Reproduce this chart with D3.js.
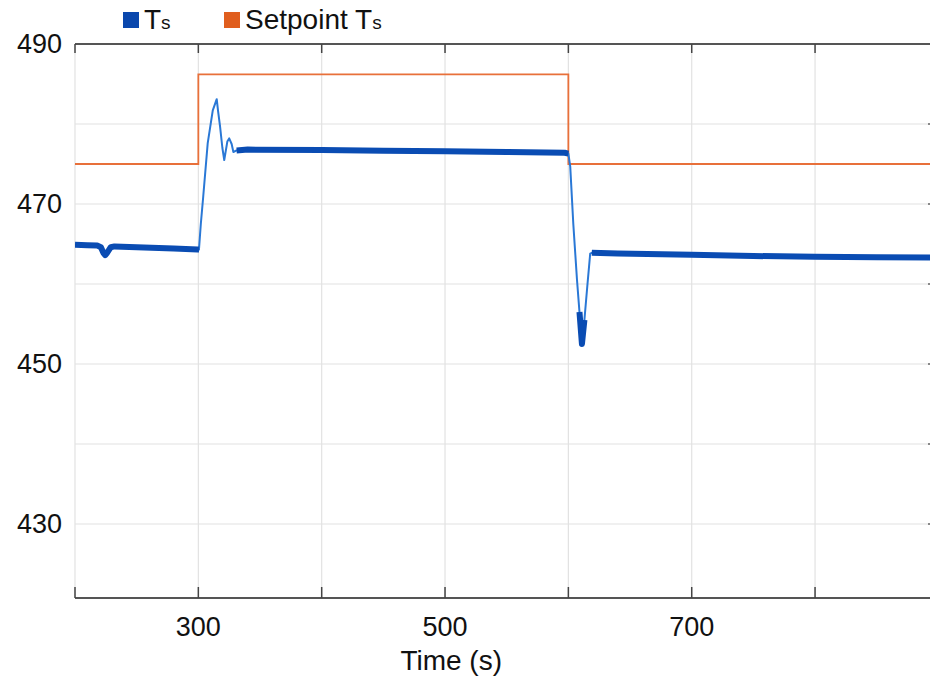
<!DOCTYPE html>
<html>
<head>
<meta charset="utf-8">
<script src="https://cdn.jsdelivr.net/npm/d3@7"></script>
<style>
  body { margin: 0; background: #fff; }
  text { font-family: "Liberation Sans", Arial, sans-serif; fill: #111; }
</style>
</head>
<body>
<div id="chart"></div>
<script>
// time (s) and measured Ts
var tsTime = [200, 210, 218, 221, 223, 224.5, 226, 229, 232, 250, 280, 299.5,
  300.5, 302, 304, 307.6, 311.7, 314.9, 316, 317.6, 319.5, 321, 323.5, 325, 327, 328.4, 331,
  340, 400, 450, 500, 550, 597, 600, 601.5, 604, 607, 609, 611, 613, 615.5, 617.7, 619,
  640, 700, 750, 800, 850, 894];
var tsValue = [464.9, 464.85, 464.8, 464.6, 463.9, 463.6, 463.9, 464.6, 464.7, 464.6, 464.45, 464.3,
  464.3, 467.5, 471, 477.6, 481.7, 483.1, 481.6, 479.7, 477, 475.5, 477.8, 478.2, 477.5, 476.5, 476.7,
  476.8, 476.75, 476.65, 476.6, 476.5, 476.4, 476.3, 474.7, 467.5, 460.5, 456.5, 452.5, 455.5, 460, 463.8, 463.9,
  463.8, 463.65, 463.5, 463.4, 463.35, 463.3];

// setpoint steps
var spTime = [200, 300, 300, 600, 600, 894];
var spValue = [475, 475, 486.2, 486.2, 475, 475];

// stretches where the signal is noisy (drawn as a band)
var steadyRanges = [[200, 300.5], [329, 600], [609, 613], [618, 894]];

var xTicks = [200, 300, 400, 500, 600, 700, 800];
var xLabels = [300, 500, 700];
var yGrid = [430, 440, 450, 460, 470, 480];
var yLabels = [430, 450, 470, 490];

var legendNames = ["T", "Setpoint T"];
var legendColors = ["#0a47ad", "#e05e1e"];

var svgWidth = 930, svgHeight = 679;
var margin = { top: 44, right: -1, bottom: 81, left: 75 };
var width = svgWidth - margin.left - margin.right;
var height = svgHeight - margin.top - margin.bottom;

var svg = d3.select("#chart").append("svg")
  .attr("width", svgWidth)
  .attr("height", svgHeight)
  .style("display", "block");

var g = svg.append("g")
  .attr("transform", "translate(" + margin.left + "," + margin.top + ")");

var x = d3.scaleLinear().domain([200, 894]).range([0, width]);
var y = d3.scaleLinear().domain([420.75, 490]).range([height, 0]);

// grid
g.append("g").selectAll("line").data(xTicks).enter().append("line")
  .attr("x1", d => x(d)).attr("x2", d => x(d))
  .attr("y1", 0).attr("y2", height)
  .attr("stroke", "#e2e2e2").attr("stroke-width", 1.2);
g.append("g").selectAll("line").data(yGrid).enter().append("line")
  .attr("x1", 0).attr("x2", width)
  .attr("y1", d => y(d)).attr("y2", d => y(d))
  .attr("stroke", "#e2e2e2").attr("stroke-width", 1.2);

// clip
svg.append("defs").append("clipPath").attr("id", "clip")
  .append("rect").attr("width", width).attr("height", height);
var plot = g.append("g").attr("clip-path", "url(#clip)");

var ts = tsTime.map((t, i) => ({ t: t, v: tsValue[i] }));
var sp = spTime.map((t, i) => ({ t: t, v: spValue[i] }));

var line = d3.line().x(d => x(d.t)).y(d => y(d.v));

plot.append("path").datum(sp)
  .attr("d", line)
  .attr("fill", "none")
  .attr("stroke", "#e8703a")
  .attr("stroke-width", 1.8);

plot.append("path").datum(ts)
  .attr("d", line)
  .attr("fill", "none")
  .attr("stroke", "#2a78d6")
  .attr("stroke-width", 2)
  .attr("stroke-linejoin", "round");

steadyRanges.forEach(function(r) {
  var seg = ts.filter(d => d.t >= r[0] && d.t <= r[1]);
  plot.append("path").datum(seg)
    .attr("d", line)
    .attr("fill", "none")
    .attr("stroke", "#0a4cb3")
    .attr("stroke-width", 6)
    .attr("stroke-linejoin", "round");
});

// frame: top and bottom axes
g.append("line").attr("x1", 0).attr("x2", width).attr("y1", 0).attr("y2", 0)
  .attr("stroke", "#555").attr("stroke-width", 2);
g.append("line").attr("x1", 0).attr("x2", width).attr("y1", height).attr("y2", height)
  .attr("stroke", "#555").attr("stroke-width", 2);

g.append("g").selectAll("line").data(xTicks).enter().append("line")
  .attr("x1", d => x(d)).attr("x2", d => x(d))
  .attr("y1", 0).attr("y2", 9)
  .attr("stroke", "#444").attr("stroke-width", 1.5);
g.append("g").selectAll("line").data(xTicks).enter().append("line")
  .attr("x1", d => x(d)).attr("x2", d => x(d))
  .attr("y1", height).attr("y2", height - 11)
  .attr("stroke", "#444").attr("stroke-width", 1.5);

// right edge ticks
g.append("g").selectAll("line").data(yGrid).enter().append("line")
  .attr("x1", width - 3).attr("x2", width)
  .attr("y1", d => y(d)).attr("y2", d => y(d))
  .attr("stroke", "#666").attr("stroke-width", 1.5);

// tick labels
g.append("g").selectAll("text").data(xLabels).enter().append("text")
  .attr("x", d => x(d))
  .attr("y", height + 38)
  .attr("text-anchor", "middle")
  .style("font-size", "27px")
  .text(d => d);

g.append("g").selectAll("text").data(yLabels).enter().append("text")
  .attr("x", -13)
  .attr("y", d => y(d) + 9)
  .attr("text-anchor", "end")
  .style("font-size", "27px")
  .text(d => d);

g.append("text")
  .attr("x", x(505))
  .attr("y", height + 72)
  .attr("text-anchor", "middle")
  .style("font-size", "28px")
  .text("Time (s)");

// legend
var legendX = [123, 224];
var legend = svg.append("g");
legendNames.forEach(function(name, i) {
  legend.append("rect")
    .attr("x", legendX[i]).attr("y", 12)
    .attr("width", 16).attr("height", 16)
    .attr("fill", legendColors[i]);
  var t = legend.append("text")
    .attr("x", legendX[i] + 21)
    .attr("y", 29)
    .style("font-size", "28px");
  t.append("tspan").text(name);
  t.append("tspan").style("font-size", "19px").text("s");
});
</script>
</body>
</html>
